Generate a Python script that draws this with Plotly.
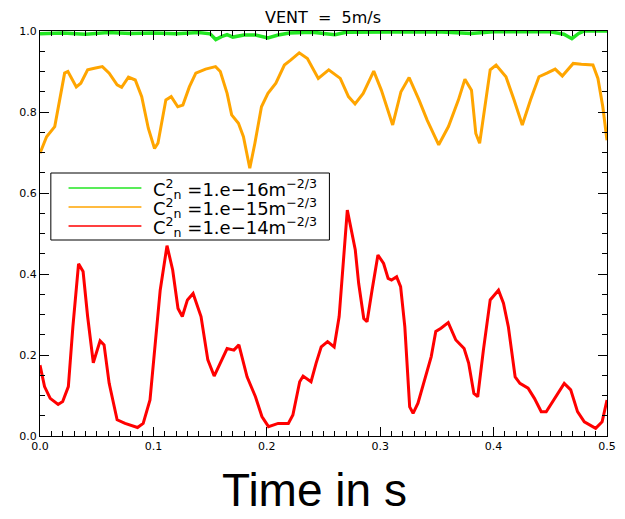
import plotly.graph_objects as go

# ---- data ----
t_red = [0.000, 0.004, 0.009, 0.016, 0.020, 0.025, 0.029, 0.034, 0.038, 0.042, 0.047, 0.053, 0.0565,
         0.061, 0.068, 0.075, 0.086, 0.091, 0.097, 0.106, 0.112, 0.117, 0.1217, 0.1255, 0.130, 0.135,
         0.142, 0.148, 0.1536, 0.158, 0.165, 0.171, 0.1754, 0.1826, 0.190, 0.1957, 0.2015, 0.210,
         0.219, 0.223, 0.229, 0.232, 0.239, 0.2435, 0.248, 0.2536, 0.2594, 0.2638, 0.268, 0.271,
         0.278, 0.281, 0.2855, 0.2884, 0.2928, 0.298, 0.303, 0.307, 0.310, 0.3145, 0.318, 0.3217,
         0.326, 0.329, 0.3333, 0.339, 0.345, 0.349, 0.3536, 0.360, 0.3667, 0.374, 0.378, 0.3826,
         0.386, 0.391, 0.397, 0.4043, 0.4087, 0.413, 0.419, 0.4232, 0.4304, 0.436, 0.442, 0.4464,
         0.455, 0.4623, 0.468, 0.474, 0.480, 0.490, 0.4957, 0.500]
v_red = [0.175, 0.122, 0.093, 0.078, 0.085, 0.122, 0.270, 0.425, 0.406, 0.295, 0.181, 0.235, 0.225,
         0.130, 0.040, 0.031, 0.021, 0.031, 0.089, 0.360, 0.470, 0.410, 0.315, 0.295, 0.336, 0.352,
         0.295, 0.188, 0.148, 0.175, 0.216, 0.212, 0.225, 0.146, 0.097, 0.048, 0.023, 0.031,
         0.031, 0.052, 0.134, 0.148, 0.134, 0.180, 0.220, 0.233, 0.220, 0.295, 0.459, 0.558,
         0.460, 0.377, 0.290, 0.282, 0.360, 0.447, 0.426, 0.389, 0.385, 0.393, 0.369, 0.270,
         0.072, 0.056, 0.081, 0.138, 0.196, 0.258, 0.266, 0.280, 0.237, 0.216, 0.180, 0.105,
         0.097, 0.212, 0.336, 0.360, 0.328, 0.270, 0.146, 0.130, 0.118, 0.093, 0.060, 0.060,
         0.097, 0.130, 0.114, 0.060, 0.035, 0.019, 0.035, 0.089]

t_orange = [0.000, 0.0058, 0.013, 0.0174, 0.0217, 0.0246, 0.032, 0.036, 0.042, 0.048, 0.055, 0.061,
            0.068, 0.072, 0.078, 0.084, 0.0897, 0.0955, 0.101, 0.104, 0.111, 0.1157, 0.1215, 0.126,
            0.1317, 0.1374, 0.146, 0.1548, 0.159, 0.165, 0.169, 0.175, 0.1794, 0.185, 0.1895,
            0.1953, 0.201, 0.208, 0.2155, 0.221, 0.2286, 0.2358, 0.2416, 0.2454, 0.2546, 0.2648,
            0.272, 0.2778, 0.285, 0.2943, 0.301, 0.311, 0.3183, 0.3255, 0.3342, 0.3414, 0.3516,
            0.3602, 0.369, 0.3747, 0.3805, 0.3843, 0.3877, 0.392, 0.397, 0.4022, 0.4109, 0.418,
            0.4253, 0.4326, 0.440, 0.447, 0.4543, 0.4606, 0.4702, 0.4774, 0.4876, 0.492, 0.4963, 0.500]
v_orange = [0.698, 0.739, 0.764, 0.830, 0.896, 0.900, 0.862, 0.871, 0.904, 0.908, 0.912, 0.896,
            0.867, 0.861, 0.886, 0.879, 0.838, 0.760, 0.710, 0.723, 0.830, 0.838, 0.813, 0.817,
            0.862, 0.896, 0.906, 0.912, 0.900, 0.846, 0.793, 0.772, 0.739, 0.661, 0.723,
            0.813, 0.846, 0.871, 0.916, 0.928, 0.946, 0.932, 0.900, 0.883, 0.904, 0.883,
            0.838, 0.820, 0.846, 0.901, 0.854, 0.768, 0.850, 0.885, 0.830, 0.780, 0.719,
            0.764, 0.830, 0.881, 0.854, 0.747, 0.723, 0.813, 0.904, 0.916, 0.887, 0.830,
            0.768, 0.830, 0.887, 0.896, 0.906, 0.889, 0.920, 0.918, 0.916, 0.883, 0.813, 0.730]

t_green = [0.000, 0.020, 0.040, 0.060, 0.080, 0.100, 0.120, 0.140, 0.150, 0.155, 0.160, 0.165,
           0.170, 0.180, 0.190, 0.201, 0.210, 0.220, 0.240, 0.260, 0.270, 0.300, 0.350, 0.380,
           0.400, 0.420, 0.450, 0.462, 0.469, 0.475, 0.480, 0.500]
v_green = [0.993, 0.995, 0.992, 0.996, 0.994, 0.995, 0.993, 0.996, 0.993, 0.979, 0.986, 0.991,
           0.985, 0.990, 0.990, 0.983, 0.990, 0.995, 0.997, 0.991, 0.997, 0.998, 0.998, 0.994,
           0.998, 0.998, 0.998, 0.992, 0.981, 0.994, 1.000, 1.000]

series_names = ["C<sup>2</sup><sub>n</sub> =1.e\u221216m<sup>\u22122/3</sup>",
                "C<sup>2</sup><sub>n</sub> =1.e\u221215m<sup>\u22122/3</sup>",
                "C<sup>2</sup><sub>n</sub> =1.e\u221214m<sup>\u22122/3</sup>"]
series_colors = ["#22e622", "#ffa500", "#ff0000"]

fig = go.Figure()
fig.add_trace(go.Scatter(x=t_green, y=v_green, mode="lines", line=dict(color=series_colors[0], width=3.5),
                         showlegend=False))
fig.add_trace(go.Scatter(x=t_orange, y=v_orange, mode="lines", line=dict(color=series_colors[1], width=3),
                         showlegend=False))
fig.add_trace(go.Scatter(x=t_red, y=v_red, mode="lines", line=dict(color=series_colors[2], width=3),
                         showlegend=False))

# plot area in pixels
L, R, T, B = 40, 616, 31, 436
W, H = 625, 519


def px(x):
    return (x - L) / (R - L)


def py(y):
    return (B - y) / (B - T)


# custom legend box (IDL style)
fig.add_shape(type="rect", xref="paper", yref="paper", x0=px(51), x1=px(334), y0=py(240), y1=py(173),
              line=dict(color="black", width=1), fillcolor="white", layer="above")
for i, yy in enumerate([188, 207, 226]):
    fig.add_shape(type="line", xref="paper", yref="paper", x0=px(69), x1=px(143), y0=py(yy), y1=py(yy),
                  line=dict(color=series_colors[i], width=1.5), layer="above")
    fig.add_annotation(xref="paper", yref="paper", x=px(153), y=py(yy + 1), text=series_names[i],
                       showarrow=False, xanchor="left", yanchor="middle",
                       font=dict(family="DejaVu Sans", size=18, color="black"))

fig.add_annotation(xref="paper", yref="paper", x=px(327), y=py(18), text="VENT  =  5m/s", showarrow=False,
                   xanchor="center", yanchor="middle",
                   font=dict(family="DejaVu Sans", size=16, color="black"))
fig.add_annotation(xref="paper", yref="paper", x=px(319), y=py(518), text="Time in s", showarrow=False,
                   xanchor="center", yanchor="bottom",
                   font=dict(family="Liberation Sans, Arial", size=46, color="black"))

axis_common = dict(showline=True, linecolor="black", linewidth=1, mirror="allticks", ticks="inside",
                   tickcolor="black", ticklen=9, tickwidth=1, showgrid=False, zeroline=False,
                   tickfont=dict(family="DejaVu Sans", size=11, color="black"), tickformat=".1f")

fig.update_xaxes(range=[0, 0.5], dtick=0.1, tick0=0,
                 minor=dict(dtick=0.01, ticks="inside", ticklen=5, tickcolor="black", showgrid=False),
                 **axis_common)
fig.update_yaxes(range=[0, 1.0], dtick=0.2, tick0=0,
                 minor=dict(dtick=0.05, ticks="inside", ticklen=5, tickcolor="black", showgrid=False),
                 **axis_common)

fig.update_layout(width=W, height=H, margin=dict(l=L, r=W - R, t=T, b=H - B),
                  paper_bgcolor="white", plot_bgcolor="white", showlegend=False)

fig.write_html("out.html")
